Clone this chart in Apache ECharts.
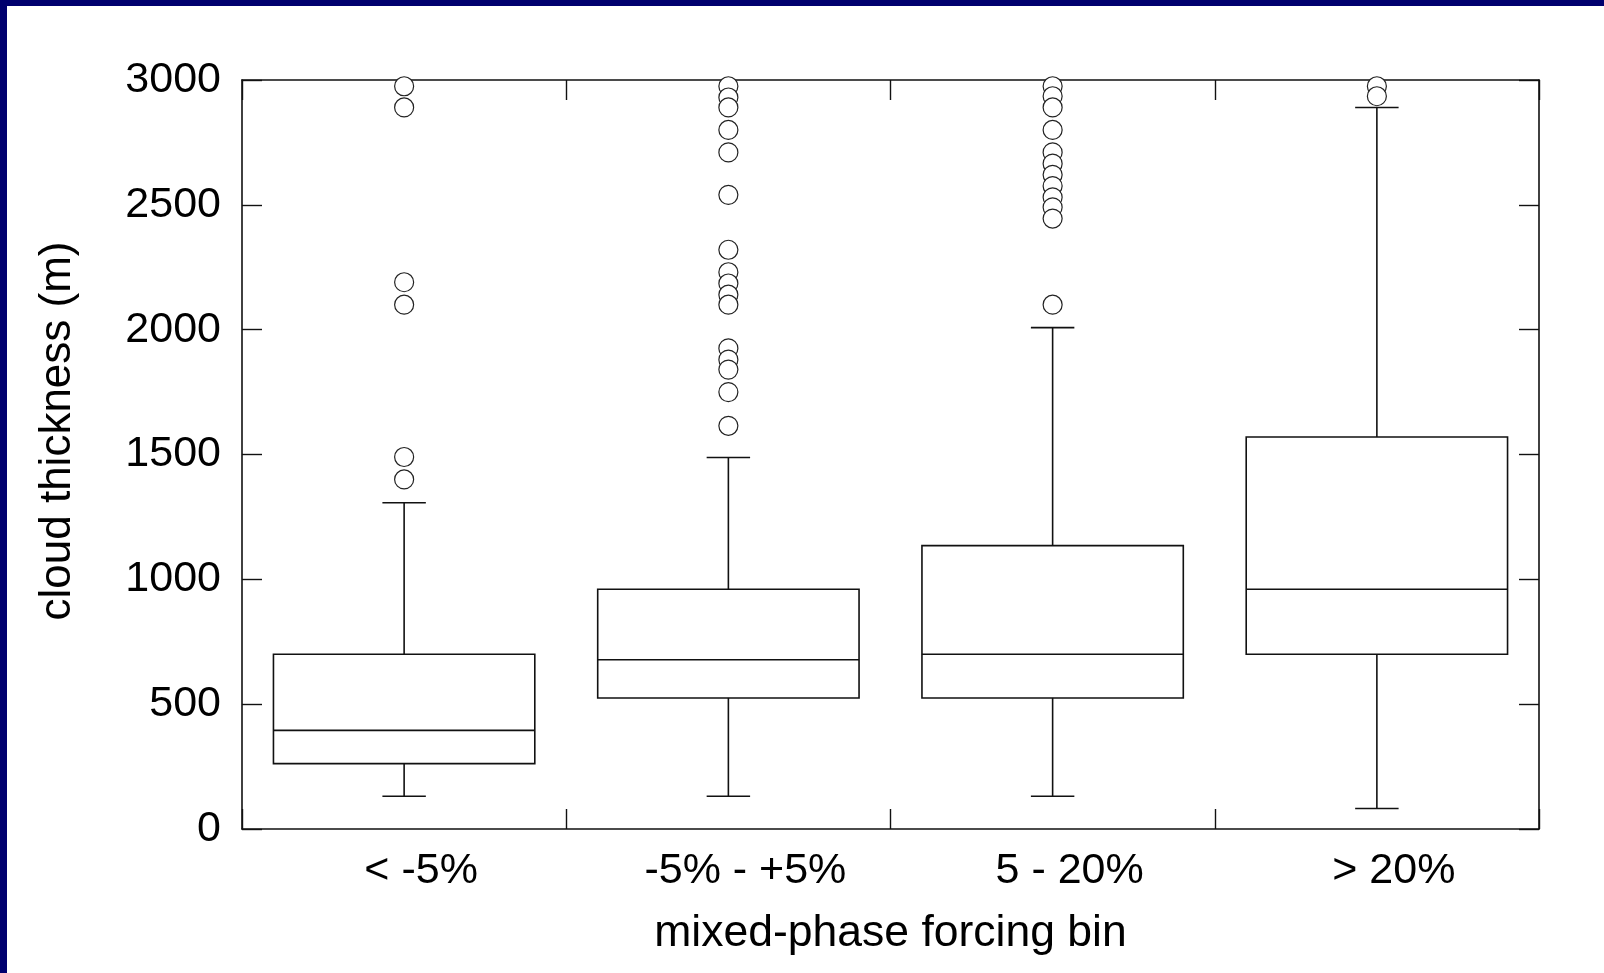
<!DOCTYPE html>
<html>
<head>
<meta charset="utf-8">
<script src="https://cdn.jsdelivr.net/npm/echarts@6/dist/echarts.min.js"></script>
<style>
  html, body { margin: 0; padding: 0; background: #fff; overflow: hidden; }
  #chart { width: 1604px; height: 973px; }
</style>
</head>
<body>
<div id="chart"></div>
<script>
// bins on the x axis
var categories = ['< -5%', '-5% - +5%', '5 - 20%', '> 20%'];
// box statistics per bin (m)
var whiskerLow = [131, 131, 131, 82];
var quartile1 = [262, 525, 525, 700];
var medians = [395, 678, 700, 960];
var quartile3 = [700, 960, 1135, 1570];
var whiskerHigh = [1307, 1488, 2008, 2890];
// outliers per bin, top to bottom
var outliers = [
  [2975, 2890, 2190, 2100, 1490, 1400],
  [2975, 2930, 2890, 2800, 2710, 2540, 2320, 2230, 2185, 2140, 2100, 1925, 1880, 1840, 1750, 1615],
  [2975, 2935, 2890, 2800, 2710, 2665, 2620, 2575, 2530, 2490, 2445, 2100],
  [2975, 2935]
];
// y axis ticks
var yMin = 0, yMax = 3000, yStep = 500;

var font = '"Liberation Sans", Arial, sans-serif';
var ink = '#111';

var boxData = categories.map(function (c, i) {
  return [i, whiskerLow[i], quartile1[i], medians[i], quartile3[i], whiskerHigh[i]];
});
var outlierData = [];
outliers.forEach(function (list, i) {
  list.forEach(function (v) { outlierData.push([i, v]); });
});

function renderBox(params, api) {
  var i = api.value(0);
  var band = api.size([1, 0])[0];
  var half = band * 0.403;
  var cap = band * 0.067;
  var lo = api.coord([i, api.value(1)]);
  var q1 = api.coord([i, api.value(2)]);
  var md = api.coord([i, api.value(3)]);
  var q3 = api.coord([i, api.value(4)]);
  var hi = api.coord([i, api.value(5)]);
  var x = md[0];
  var st = { stroke: ink, lineWidth: 1.6, fill: null };
  return {
    type: 'group',
    children: [
      { type: 'rect', shape: { x: x - half, y: q3[1], width: half * 2, height: q1[1] - q3[1] }, style: { stroke: ink, lineWidth: 1.6, fill: 'rgba(0,0,0,0)' } },
      { type: 'line', shape: { x1: x - half, y1: md[1], x2: x + half, y2: md[1] }, style: st },
      { type: 'line', shape: { x1: x, y1: q3[1], x2: x, y2: hi[1] }, style: st },
      { type: 'line', shape: { x1: x, y1: q1[1], x2: x, y2: lo[1] }, style: st },
      { type: 'line', shape: { x1: x - cap, y1: hi[1], x2: x + cap, y2: hi[1] }, style: st },
      { type: 'line', shape: { x1: x - cap, y1: lo[1], x2: x + cap, y2: lo[1] }, style: st }
    ]
  };
}

var chart = echarts.init(document.getElementById('chart'));
var axisLine = { show: true, onZero: false, lineStyle: { color: ink, width: 1.6 } };
var axisTick = { show: true, inside: true, length: 20, lineStyle: { color: ink, width: 1.4 } };

var option = {
  backgroundColor: '#fff',
  animation: false,
  grid: { left: 242, top: 80, right: 65, bottom: 144 },
  graphic: [
    // navy slide frame, top and left edges only
    { type: 'rect', shape: { x: 0, y: 0, width: 1604, height: 6 }, style: { fill: '#00006e' } },
    { type: 'rect', shape: { x: 0, y: 0, width: 7, height: 973 }, style: { fill: '#00006e' } },
    {
      type: 'text', x: 58, y: 431, rotation: Math.PI / 2,
      style: {
        text: 'cloud thickness (m)', fill: '#000', font: '44px ' + font,
        align: 'center', verticalAlign: 'middle',
        textAlign: 'center', textVerticalAlign: 'middle'
      }
    }
  ],
  xAxis: [
    {
      type: 'category',
      data: categories,
      position: 'bottom',
      axisLine: axisLine,
      axisTick: axisTick,
      splitLine: { show: false },
      axisLabel: { color: '#000', fontSize: 43, fontFamily: font, margin: 21, padding: [0, 0, 0, 34] },
      name: 'mixed-phase forcing bin',
      nameLocation: 'middle',
      nameGap: 82,
      nameTextStyle: { color: '#000', fontSize: 44.5, fontFamily: font }
    },
    {
      type: 'category',
      data: categories,
      position: 'top',
      axisLine: axisLine,
      axisTick: axisTick,
      axisLabel: { show: false },
      splitLine: { show: false }
    }
  ],
  yAxis: [
    {
      type: 'value',
      min: yMin, max: yMax, interval: yStep,
      position: 'left',
      axisLine: axisLine,
      axisTick: axisTick,
      splitLine: { show: false },
      axisLabel: {
        color: '#000', fontSize: 43, fontFamily: font, margin: 21, padding: [5, 0, 0, 0],
        formatter: function (v) { return String(v); }
      }
    },
    {
      type: 'value',
      min: yMin, max: yMax, interval: yStep,
      position: 'right',
      axisLine: axisLine,
      axisTick: axisTick,
      splitLine: { show: false },
      axisLabel: { show: false }
    }
  ],
  series: [
    {
      type: 'custom',
      renderItem: renderBox,
      encode: { x: 0, y: [1, 2, 3, 4, 5] },
      data: boxData,
      z: 2
    },
    {
      type: 'scatter',
      data: outlierData,
      symbol: 'circle',
      symbolSize: 19,
      clip: false,
      itemStyle: { color: '#fff', borderColor: '#222', borderWidth: 1.2, opacity: 1 },
      z: 3
    }
  ]
};

chart.setOption(option);
</script>
</body>
</html>
